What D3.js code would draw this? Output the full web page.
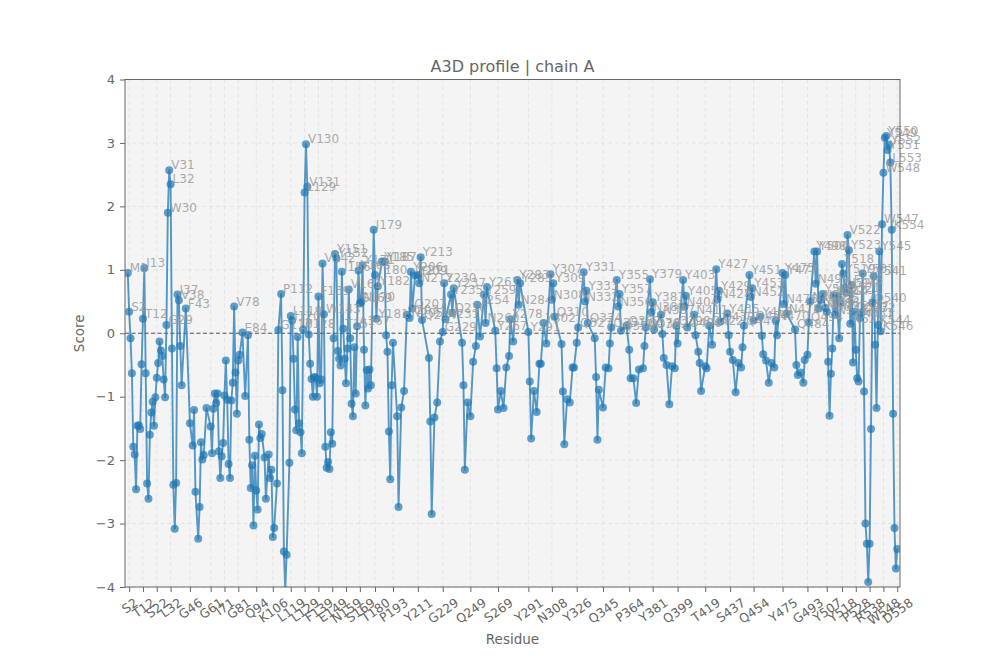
<!DOCTYPE html>
<html>
<head>
<meta charset="utf-8">
<script src="https://cdn.jsdelivr.net/npm/d3@7"></script>
<style>
  body { margin: 0; background: #fff; }
  text { font-family: "DejaVu Sans", sans-serif; }
</style>
</head>
<body>
<div id="chart"></div>
<script>
// residues in the chain (letter + number), in order
var residues = [
  "M1","S2","K3","L4","I5","V6","L7","A8","V9","L10","A11","T12","I13","L14","A15","V16","L17","G18","A19","A20",
  "L21","S22","A23","P24","A25","A26","L27","A28","G29","W30","V31","L32","E33","A34","L35","A36","I37","V38","D39","A40",
  "F43","G46","A48","S49","L50","A52","V53","G54","A55","S56","D58","G61","A62","S63","T64","D65","A66","L67","A68","V69",
  "S70","I71","A72","L73","V74","A75","S76","L77","V78","A79","S80","G81","A82","E84","S86","A88","L89","V90","A91","L92",
  "A93","Q94","A95","L96","V97","A98","L100","I101","A103","G104","V105","K106","L107","A109","G110","P112","D113","L114","V115","I116",
  "A118","L119","I120","S121","A122","L123","D124","V125","A126","L127","P128","L129","V130","V131","E132","A133","L134","A135","V136","A137",
  "L138","F139","A140","S141","V142","W143","A144","L145","A146","V147","L148","E149","A150","Y151","Y152","D153","A154","S155","I156","T157",
  "A158","N159","A160","V161","D162","A163","L164","S165","A166","A167","Y168","S169","N170","Y171","E172","A173","V174","A175","S176","L177",
  "I179","T180","Y181","Y182","Y185","Y187","S188","D189","A190","L191","A192","P193","A196","L197","V199","A201","Y203","N205","Y206","Q207",
  "Y209","Y211","N212","Y213","Q214","S219","A220","L221","V223","A225","D227","G229","Y230","N231","Y235","Q236","Y237","S243","A244","L245",
  "V247","Q249","A251","D253","Y254","S256","Y259","N260","Y261","Y267","A268","S269","A271","L273","A275","S277","Y278","D280","Y283","N284",
  "Y285","Y291","A292","L293","A295","V297","S299","A300","Y302","D304","Y307","N308","Y309","Q310","S315","A316","L317","A319","V321","A323",
  "S324","Y326","Q327","Y331","N332","Y333","Q334","S339","A340","L341","A342","Q345","A347","S349","D350","Q351","Y355","N356","Y357","Q358",
  "Q362","P364","A365","S367","L369","A371","S374","D375","Q376","Y379","N380","Y381","Q382","N387","S388","A389","S391","L393","A395","S397",
  "Q398","Q399","Y403","N404","Y405","Q406","N411","S412","A414","S415","L416","T419","A420","Q422","S424","Y427","N428","Y429","Q430","Y435",
  "S436","S437","A439","L441","A443","S445","D446","Q447","Y451","N452","Y453","Q454","Y459","S460","A461","S463","L465","A467","S469","N470",
  "S471","Y475","N476","Y477","N478","Q484","S485","A486","S488","L490","A491","G493","Q494","N495","Y498","N499","Y500","Q501","N503","Y504",
  "Q506","Y507","S508","A509","L510","D511","Y512","N513","Y514","S516","Q517","Y518","Y519","N520","Q521","V522","Y523","N524","F525","S526",
  "Q527","P528","A529","L530","N531","Q532","Y533","A534","L535","I536","V537","R538","L539","Q540","V541","S542","A543","K544","Y545","K546",
  "W547","W548","Y549","Y550","Y551","Y552","L553","K554","A555","L556","I557","D558"
];

// A3D score per residue
var scores = [
  0.95,0.34,-0.08,-0.63,-1.79,-1.91,-2.46,-1.46,-1.45,-1.51,-0.49,0.23,1.03,-0.63,-2.37,-2.61,-1.60,-1.25,-1.08,-1.46,
  -1.01,-0.70,-0.47,-0.13,-0.27,-0.36,-0.73,-1.01,0.13,1.90,2.57,2.35,-0.24,-2.39,-3.08,-2.36,0.61,0.52,-0.20,-0.82,
  0.39,-1.42,-1.77,-1.21,-2.50,-3.24,-2.74,-1.72,-1.99,-1.92,-1.18,-1.47,-1.89,-1.19,-0.95,-1.10,-0.95,-1.86,-2.28,-1.94,
  -1.73,-0.98,-0.43,-1.05,-2.06,-2.28,-1.06,-0.78,0.42,-0.62,-1.27,-0.43,-0.34,0.01,-0.99,-0.03,-1.68,-2.44,-2.08,-3.03,
  -1.93,-2.48,-2.78,-1.44,-1.65,-1.59,-1.96,-2.61,-1.91,-2.28,-2.15,-3.21,-3.07,-2.37,0.05,0.62,-0.90,-3.44,-4.05,-3.49,
  -2.04,0.27,0.20,-0.40,-1.20,-1.53,-0.06,-1.42,-1.56,-1.89,0.06,2.22,2.98,2.31,-0.02,-0.48,-0.72,-1.00,-0.69,-0.70,
  -1.00,0.58,-0.79,-0.73,1.10,0.30,-1.79,-2.12,-2.03,-2.14,-1.56,-1.74,-0.08,1.25,1.18,-0.28,-0.40,-0.51,0.97,0.07,
  -0.40,-0.79,-0.24,0.69,-0.08,-1.11,-1.31,-0.22,-0.95,0.11,0.99,0.47,0.49,1.07,-0.26,-1.14,-0.58,-0.87,-0.57,-0.82,
  1.63,0.92,0.23,0.74,1.13,1.13,-0.03,-0.29,-1.55,-2.30,-0.82,-0.15,-1.31,-2.74,-1.17,-0.91,0.29,0.24,0.97,0.39,
  0.91,0.92,0.79,1.20,0.21,-0.39,-1.39,-2.85,-1.33,-1.09,-0.13,0.02,0.79,0.22,0.61,0.32,0.71,-0.15,-0.82,-2.15,
  -1.09,-1.31,-0.45,-0.20,0.45,-0.05,0.61,0.16,0.73,0.04,-0.55,-1.20,-0.91,-1.18,-0.54,-0.36,0.22,-0.13,0.84,0.45,
  0.79,0.02,-0.76,-1.66,-0.91,-1.24,-0.48,-0.48,0.16,-0.16,0.93,0.53,0.79,0.26,-0.17,-0.92,-1.75,-1.04,-1.09,-0.54,
  -0.54,-0.15,0.09,0.96,0.50,0.67,0.16,-0.08,-0.69,-1.68,-0.89,-1.17,-0.54,-0.55,-0.16,0.09,0.84,0.42,0.62,0.04,
  0.12,-0.26,-0.71,-0.71,-1.10,-0.57,-0.55,-0.20,0.09,0.85,0.33,0.49,0.06,0.29,-0.01,-0.39,-0.50,-1.12,-0.52,-0.55,
  0.12,-0.16,0.84,0.42,0.59,0.09,0.29,-0.03,-0.29,-0.47,-0.91,-0.52,-0.55,0.12,-0.18,1.01,0.54,0.67,0.18,0.31,
  -0.03,-0.29,-0.42,-0.93,-0.47,-0.54,-0.22,0.12,0.92,0.57,0.71,0.20,0.26,-0.04,-0.33,-0.43,-0.78,-0.47,-0.54,0.20,
  -0.03,0.95,0.46,0.92,0.31,0.06,-0.50,-0.66,-0.62,-0.78,-0.42,-0.34,0.17,0.50,1.29,0.78,1.29,0.39,0.53,0.62,
  0.40,0.34,-0.45,-1.30,-0.64,-0.24,0.60,0.29,0.59,-0.08,0.48,1.09,0.94,0.71,0.64,1.55,1.31,0.15,0.76,-0.46,
  0.34,-0.26,-0.71,-0.76,0.24,0.32,0.94,-0.92,-3.00,-3.32,-3.92,-3.32,-1.51,0.48,0.90,-0.18,-1.18,0.13,1.29,0.03,
  1.72,2.53,3.08,3.11,2.89,2.97,2.69,1.63,-1.27,-3.07,-3.71,-3.40
];

// x tick labels (every 10th residue in the list)
var tickLabels = ["S2","T12","S22","L32","G46","G61","I71","G81","Q94","K106","L119","L129","F139","E149","N159",
  "S169","T180","P193","Y211","G229","Q249","S269","Y291","N308","Y326","Q345","P364","Y381","Q399","T419","S437",
  "Q454","Y475","G493","Y507","Y518","P528","R538","W548","D558"];

var yTicks = [-4,-3,-2,-1,0,1,2,3,4];

var W = 1000, H = 660;
var pLeft = 125, pRight = 900, pTop = 79.5, pBottom = 587;

function resNum(name) { return +name.slice(1); }

var points = residues.map(function (r, i) {
  return { name: r, num: resNum(r), score: scores[i] };
});

var x = d3.scaleLinear().domain([-1, 560]).range([pLeft, pRight]);
var y = d3.scaleLinear().domain([-4, 4]).range([pBottom, pTop]);

var svg = d3.select("#chart").append("svg")
  .attr("width", W).attr("height", H);

svg.append("rect")
  .attr("x", pLeft).attr("y", pTop)
  .attr("width", pRight - pLeft).attr("height", pBottom - pTop)
  .attr("fill", "#f4f4f4");

svg.append("clipPath").attr("id", "plotclip")
  .append("rect")
  .attr("x", pLeft).attr("y", pTop)
  .attr("width", pRight - pLeft).attr("height", pBottom - pTop);

// grid
var tickNums = tickLabels.map(resNum);
svg.append("g").selectAll("line").data(tickNums).enter().append("line")
  .attr("x1", function (d) { return x(d); }).attr("x2", function (d) { return x(d); })
  .attr("y1", pTop).attr("y2", pBottom)
  .attr("stroke", "#e0e0e0").attr("stroke-width", 0.8).attr("stroke-dasharray", "4,3");
svg.append("g").selectAll("line").data(yTicks).enter().append("line")
  .attr("x1", pLeft).attr("x2", pRight)
  .attr("y1", function (d) { return y(d); }).attr("y2", function (d) { return y(d); })
  .attr("stroke", "#e0e0e0").attr("stroke-width", 0.8).attr("stroke-dasharray", "4,3");

// zero line
svg.append("line")
  .attr("x1", pLeft).attr("x2", pRight)
  .attr("y1", y(0)).attr("y2", y(0))
  .attr("stroke", "#555").attr("stroke-width", 1.1).attr("stroke-dasharray", "4,2.5");

// data
var plot = svg.append("g").attr("clip-path", "url(#plotclip)");
var line = d3.line()
  .x(function (d) { return x(d.num); })
  .y(function (d) { return y(d.score); });

plot.append("path").datum(points)
  .attr("d", line)
  .attr("fill", "none")
  .attr("stroke", "#1f77b4").attr("stroke-opacity", 0.75)
  .attr("stroke-width", 1.9).attr("stroke-linejoin", "round");

plot.selectAll("circle").data(points).enter().append("circle")
  .attr("cx", function (d) { return x(d.num); })
  .attr("cy", function (d) { return y(d.score); })
  .attr("r", 4)
  .attr("fill", "#1f77b4").attr("fill-opacity", 0.7);

// labels on positive residues
svg.append("g").selectAll("text").data(points.filter(function (d) { return d.score > 0; }))
  .enter().append("text")
  .attr("x", function (d) { return x(d.num) + 2; })
  .attr("y", function (d) { return y(d.score) - 1; })
  .attr("font-size", 12)
  .attr("fill", "#9a9a9a").attr("fill-opacity", 0.85)
  .text(function (d) { return d.name; });

// frame
svg.append("rect")
  .attr("x", pLeft).attr("y", pTop)
  .attr("width", pRight - pLeft).attr("height", pBottom - pTop)
  .attr("fill", "none").attr("stroke", "#666").attr("stroke-width", 1);

// axes
var yAxis = svg.append("g").attr("transform", "translate(" + pLeft + ",0)")
  .call(d3.axisLeft(y).tickValues(yTicks).tickSize(5).tickPadding(5).tickFormat(d3.format("d")));
var xAxis = svg.append("g").attr("transform", "translate(0," + pBottom + ")")
  .call(d3.axisBottom(x).tickValues(tickNums).tickSize(5).tickPadding(4)
    .tickFormat(function (d, i) { return tickLabels[i]; }));

[yAxis, xAxis].forEach(function (a) {
  a.select(".domain").remove();
  a.selectAll(".tick line").attr("stroke", "#666");
  a.selectAll(".tick text").attr("fill", "#666").attr("font-family", "DejaVu Sans, sans-serif");
});
yAxis.selectAll(".tick text").attr("font-size", 13);

var ang = 35 * Math.PI / 180;
xAxis.selectAll(".tick text")
  .attr("font-size", 12.5)
  .attr("text-anchor", "middle")
  .attr("dy", null)
  .attr("dominant-baseline", "central")
  .each(function () {
    var t = d3.select(this);
    var w = this.getComputedTextLength();
    var h = 10;
    var bh = w * Math.sin(ang) + h * Math.cos(ang);
    t.attr("y", null)
      .attr("transform", "translate(0," + (10 + bh / 2) + ") rotate(-35)");
  });

// titles
svg.append("text")
  .attr("x", (pLeft + pRight) / 2).attr("y", 72)
  .attr("text-anchor", "middle").attr("font-size", 16).attr("fill", "#666")
  .text("A3D profile | chain A");
svg.append("text")
  .attr("x", (pLeft + pRight) / 2).attr("y", 644)
  .attr("text-anchor", "middle").attr("font-size", 13.5).attr("fill", "#666")
  .text("Residue");
svg.append("text")
  .attr("transform", "translate(84," + y(0) + ") rotate(-90)")
  .attr("text-anchor", "middle").attr("font-size", 13.5).attr("fill", "#666")
  .text("Score");
</script>
</body>
</html>
